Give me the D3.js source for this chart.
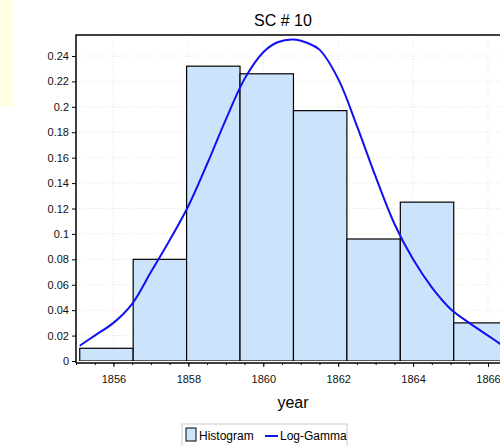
<!DOCTYPE html>
<html><head><meta charset="utf-8">
<script src="https://cdn.jsdelivr.net/npm/d3@7"></script>
<style>body{margin:0;background:#fff;font-family:"Liberation Sans",Arial,sans-serif}</style>
</head><body><div id="chart"></div>
<script>
// histogram bins (start year, density)
const binStart = 1855.1, binWidth = 1.4265;
const binValues = [0.01, 0.08, 0.232, 0.226, 0.197, 0.096, 0.125, 0.03];
// log-gamma fit
const curveX = [1855.1,1855.5,1856,1856.5,1857,1857.5,1858,1858.5,1859,1859.5,1860,1860.4,1860.8,1861.2,1861.5,1862,1862.5,1863,1863.5,1864,1864.5,1865,1865.5,1866,1866.4];
const curveY = [0.012,0.02,0.03,0.045,0.07,0.095,0.122,0.155,0.19,0.222,0.243,0.251,0.253,0.25,0.245,0.222,0.185,0.145,0.108,0.08,0.058,0.041,0.03,0.02,0.012];
const xTicks = [1856,1858,1860,1862,1864,1866];
const yTicks = [0,0.02,0.04,0.06,0.08,0.1,0.12,0.14,0.16,0.18,0.2,0.22,0.24];

const W = 500, H = 446;
const svg = d3.select("#chart").append("svg").attr("width", W).attr("height", H);
svg.append("rect").attr("x",0).attr("y",0).attr("width",13).attr("height",107).attr("fill","#ffffe4");

const pL = 76, pT = 35, pR = 500, pB = 361;
const x = d3.scaleLinear().domain([1855, 1856 + (500 - 113.5) / 37.45]).range([pL, pR]);
const y = d3.scaleLinear().domain([0, 0.24 * (361 - 35) / 305]).range([pB, pT]);

svg.append("defs").append("clipPath").attr("id","clip")
   .append("rect").attr("x",pL).attr("y",pT).attr("width",pR-pL).attr("height",pB-pT);

// grid
const grid = svg.append("g").attr("stroke","#e6e6d8").attr("stroke-dasharray","1,2");
xTicks.forEach(t => grid.append("line").attr("x1",x(t)).attr("x2",x(t)).attr("y1",pT).attr("y2",pB));
yTicks.forEach(t => grid.append("line").attr("x1",pL).attr("x2",pR).attr("y1",y(t)).attr("y2",y(t)));

const plot = svg.append("g").attr("clip-path","url(#clip)");
plot.selectAll("rect.bar").data(binValues).enter().append("rect")
   .attr("x",(d,i)=>x(binStart+i*binWidth))
   .attr("width",(d,i)=>x(binStart+(i+1)*binWidth)-x(binStart+i*binWidth))
   .attr("y",d=>y(d)).attr("height",d=>y(0)-y(d))
   .attr("fill","#cce4fb").attr("stroke","#000").attr("stroke-width",1.2);

plot.append("path").datum(curveX.map((v,i)=>[v,curveY[i]]))
   .attr("fill","none").attr("stroke","#1010f0").attr("stroke-width",2)
   .attr("d", d3.line().x(d=>x(d[0])).y(d=>y(d[1])).curve(d3.curveCatmullRom));

// frame
svg.append("path").attr("d",`M${pR},${pT}H${pL}V${pB+2}`).attr("fill","none").attr("stroke","#000").attr("stroke-width",1.5);
svg.append("line").attr("x1",pL).attr("x2",pR).attr("y1",pB+2).attr("y2",pB+2).attr("stroke","#000").attr("stroke-width",1.5);

const xa = svg.append("g").attr("transform",`translate(0,${pB+2})`)
   .call(d3.axisBottom(x).tickValues(xTicks).tickFormat(d3.format("d")).tickSize(4));
const xm = svg.append("g").attr("transform",`translate(0,${pB+2})`)
   .call(d3.axisBottom(x).tickValues(d3.range(1855,1867,0.5)).tickFormat("").tickSize(2));
const ya = svg.append("g").attr("transform",`translate(${pL},0)`)
   .call(d3.axisLeft(y).tickValues(yTicks).tickFormat(d=>d3.format("~g")(+d.toFixed(2))).tickSize(4));
[xa,xm,ya].forEach(g=>{g.select(".domain").remove();g.selectAll("text").attr("font-size",11).attr("fill","#111").attr("font-family","Liberation Sans, Arial");});
xa.selectAll("text").attr("dy","1.2em");

svg.append("text").attr("x",283).attr("y",26).attr("text-anchor","middle").attr("font-size",16).text("SC # 10");
svg.append("text").attr("x",293).attr("y",408).attr("text-anchor","middle").attr("font-size",16).text("year");

// legend
const lg = svg.append("g");
lg.append("rect").attr("x",182).attr("y",424).attr("width",165).attr("height",30).attr("fill","#fff").attr("stroke","#ccc");
lg.append("rect").attr("x",186).attr("y",428).attr("width",10).attr("height",13).attr("fill","#cce4fb").attr("stroke","#000");
lg.append("text").attr("x",199).attr("y",440).attr("font-size",12).text("Histogram");
lg.append("line").attr("x1",265).attr("x2",278).attr("y1",436).attr("y2",436).attr("stroke","#1010f0").attr("stroke-width",2);
lg.append("text").attr("x",280).attr("y",440).attr("font-size",12).text("Log-Gamma");
</script></body></html>
